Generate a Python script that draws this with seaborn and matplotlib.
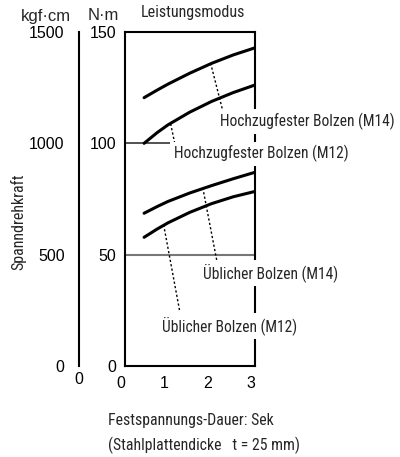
import matplotlib
matplotlib.use("Agg")
import matplotlib.pyplot as plt
import matplotlib.transforms as mtransforms
import pandas as pd
import seaborn as sns

sns.set_theme(style="white")
plt.rcParams['font.family'] = ['Liberation Sans', 'DejaVu Sans']
NARROW = ['Roboto Condensed', 'DejaVu Sans']

# Clamping time (s) and clamping torque (N·m) per bolt type
zeit = [0.45, 0.75, 1.0, 1.5, 2.0, 2.5, 3.0]
hz_m14 = [120.5, 123.9, 126.6, 131.5, 135.9, 139.7, 142.9]
hz_m12 = [100.0, 104.8, 108.3, 114.0, 118.8, 122.8, 126.2]
ub_m14 = [68.6, 71.6, 73.9, 77.7, 81.0, 84.1, 87.0]
ub_m12 = [57.8, 61.5, 64.3, 69.0, 72.9, 76.0, 78.4]

series_names = ["Hochzugfester Bolzen (M14)", "Hochzugfester Bolzen (M12)",
                "Üblicher Bolzen (M14)", "Üblicher Bolzen (M12)"]
x_ticks = [0, 1, 2, 3]
nm_ticks = [0, 50, 100, 150]
kgf_ticks = [0, 500, 1000, 1500]

df = pd.DataFrame({
    "t": zeit * 4,
    "v": hz_m14 + hz_m12 + ub_m14 + ub_m12,
    "serie": sum([[n] * len(zeit) for n in series_names], []),
})

W, H = 400, 457
fig = plt.figure(figsize=(W / 100, H / 100), dpi=100)
bottom = (H - 366) / H
height = (366 - 32) / H
ax = fig.add_axes([124.5 / W, bottom, (255 - 124.5) / W, height])

ax.axhline(100, color="#222222", lw=1.1, zorder=1)
ax.axhline(50, color="#777777", lw=1.5, zorder=1)

sns.lineplot(data=df, x="t", y="v", units="serie", estimator=None,
             color="black", lw=2.2, ax=ax, legend=False, zorder=2)

# dotted leaders and labels
leaders = [((1.98, 136.0), (2.28, 113.0)),
           ((1.06, 108.8), (1.15, 100.5)),
           ((1.80, 80.0), (2.12, 47.5)),
           ((0.90, 63.4), (1.27, 24.5))]
label_xy = [(2.20, 109.8), (1.13, 95.4), (1.80, 41.8), (0.86, 18.0)]
for (p0, p1), name, (lx, ly) in zip(leaders, series_names, label_xy):
    ax.plot([p0[0], p1[0]], [p0[1], p1[1]], color="black", lw=1.0,
            ls=(0, (1.6, 1.6)), zorder=2)
    ax.text(lx, ly, name, ha="left", va="center", fontsize=11.2,
            family=NARROW, clip_on=False, zorder=5,
            bbox=dict(facecolor="white", edgecolor="none", pad=2.5))

ax.set_xlim(0, 3)
ax.set_ylim(0, 150)
ax.set_xticks(x_ticks)
ax.set_yticks(nm_ticks)
ax.set_xlabel("")
ax.set_ylabel("")
for s in ax.spines.values():
    s.set_color("black")
    s.set_linewidth(1.5)
ax.tick_params(axis="x", direction="in", length=3, width=1.0, pad=7,
               labelsize=11.5, colors="black")
ax.tick_params(axis="y", length=0, pad=6, labelsize=11.5, colors="black")
shift = mtransforms.ScaledTranslation(-4 / 100, 0, fig.dpi_scale_trans)
for lab in ax.get_xticklabels():
    lab.set_transform(lab.get_transform() + shift)

# secondary kgf·cm scale
ax2 = fig.add_axes([78.5 / W, bottom, 0.05, height])
ax2.patch.set_visible(False)
for k in ("top", "right", "bottom"):
    ax2.spines[k].set_visible(False)
ax2.spines["left"].set_linewidth(1.5)
ax2.spines["left"].set_color("black")
ax2.set_ylim(0, 1500)
ax2.set_yticks(kgf_ticks)
ax2.set_xlim(0, 1)
ax2.set_xticks([0])
ax2.tick_params(axis="y", direction="in", length=3, width=1.2, pad=10,
                labelsize=11.5, colors="black")
ax2.tick_params(axis="x", length=0, pad=4, labelsize=11.5, colors="black")

fig.text(46 / W, 1 - 16 / H, "kgf·cm", ha="center", va="center", fontsize=12)
fig.text(103 / W, 1 - 16 / H, "N·m", ha="center", va="center", fontsize=12)
fig.text(193 / W, 1 - 12 / H, "Leistungsmodus", ha="center", va="center",
         fontsize=11.5, family=NARROW)
fig.text(18 / W, 1 - 222 / H, "Spanndrehkraft", ha="center", va="center",
         rotation=90, fontsize=11.5, family=NARROW)
fig.text(108 / W, 1 - 420 / H, "Festspannungs-Dauer: Sek", ha="left",
         va="center", fontsize=11.4, family=NARROW)
fig.text(108 / W, 1 - 445 / H, "(Stahlplattendicke   t = 25 mm)", ha="left",
         va="center", fontsize=11.4, family=NARROW)

fig.savefig("out.png", dpi=100)
